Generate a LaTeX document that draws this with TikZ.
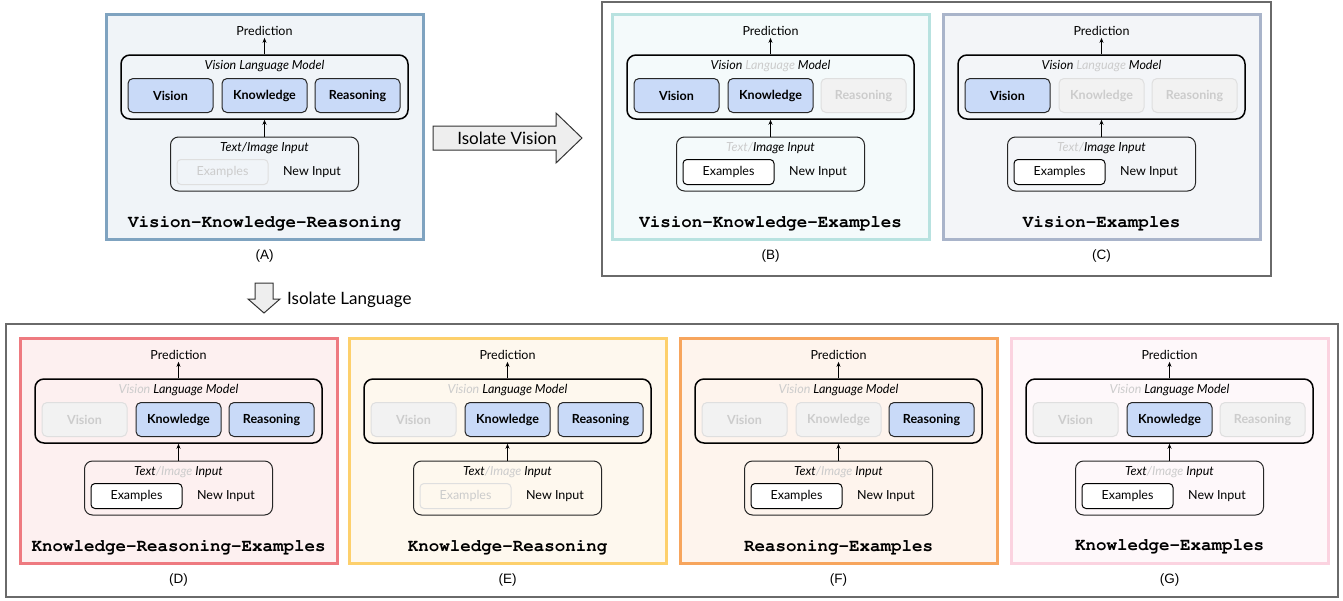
\documentclass[tikz,border=0pt]{standalone}
\usepackage[T1]{fontenc}
\usepackage{fontspec}
\usetikzlibrary{arrows.meta}
\setmainfont{Lato}
\newfontfamily\capfont{Liberation Sans}
\newcommand{\courierbold}{\fontencoding{T1}\fontfamily{pcr}\fontseries{b}\selectfont}

\definecolor{bordA}{HTML}{7FA3C0}
\definecolor{fillA}{HTML}{F0F4F8}
\definecolor{bordB}{HTML}{B8E2E0}
\definecolor{fillB}{HTML}{F4FAFB}
\definecolor{bordC}{HTML}{A9B4CA}
\definecolor{fillC}{HTML}{F3F5F8}
\definecolor{bordD}{HTML}{EE7A80}
\definecolor{fillD}{HTML}{FDF0F0}
\definecolor{bordE}{HTML}{FDD06C}
\definecolor{fillE}{HTML}{FEF8EE}
\definecolor{bordF}{HTML}{F7A55D}
\definecolor{fillF}{HTML}{FEF4ED}
\definecolor{bordG}{HTML}{FBD3E0}
\definecolor{fillG}{HTML}{FEF8FA}
\definecolor{modfill}{HTML}{C9DAF8}
\definecolor{offfill}{HTML}{F2F2F2}
\definecolor{offdraw}{HTML}{DFDFDF}
\definecolor{lblon}{HTML}{000000}
\definecolor{lbloff}{HTML}{CCCCCC}
\definecolor{framegray}{HTML}{6A6A6A}
\definecolor{arrowfill}{HTML}{EEEEEE}

\tikzset{
	txt/.style={inner sep=2pt, font=\fontsize{12.5}{15}\selectfont},
	panel/.style={line width=3pt},
	groupframe/.style={draw=framegray, line width=2pt},
	vlm/.style={draw=black, line width=1.5pt, rounded corners=9pt, minimum width=287, minimum height=64},
	inbox/.style={draw=black!85, line width=1pt, rounded corners=8pt, minimum width=188, minimum height=54},
	mod on/.style={txt, draw=black!85, line width=1pt, fill=modfill, rounded corners=5pt, minimum width=85, minimum height=34, font=\fontsize{12.5}{15}\selectfont\bfseries},
	mod off/.style={txt, draw=offdraw, line width=1pt, fill=offfill, rounded corners=5pt, minimum width=85, minimum height=34, text=lbloff, font=\fontsize{12.5}{15}\selectfont\bfseries},
	ex on/.style={txt, draw=black, line width=1pt, fill=white, rounded corners=4pt, minimum width=91, minimum height=25},
	ex off/.style={txt, draw=offdraw, line width=1pt, rounded corners=4pt, minimum width=91, minimum height=25, text=lbloff},
	ttlbl/.style={inner sep=0pt, font=\courierbold\fontsize{17.5}{20}\selectfont},
	caplbl/.style={inner sep=0pt, font=\capfont\fontsize{13.5}{16}\selectfont},
	arr/.style={-{Stealth[length=5pt,width=4pt]}, line width=1pt},
	bigarrow/.style={draw=black!80, line width=1pt, fill=arrowfill},
	biglbl/.style={inner sep=0pt, font=\fontsize{17}{20}\selectfont}
}

\begin{document}
\begin{tikzpicture}[x=1pt, y=-1pt]
	\useasboundingbox (0,0) rectangle (1343,600);
	% Frames round the isolated groups:
	\draw[groupframe] (602,2) rectangle (1271,276);
	\draw[groupframe] (6,324) rectangle (1338,597);
	% Panels:
	\foreach \p/\px/\py/\bc/\fc/\vs/\ls/\ss/\ks/\rs/\es/\tl/\cp in {
		A/106/14/bordA/fillA/on/on/on/on/on/off/Vision-Knowledge-Reasoning/A,
		B/612/14/bordB/fillB/on/off/off/on/off/on/Vision-Knowledge-Examples/B,
		C/943/14/bordC/fillC/on/off/off/off/off/on/Vision-Examples/C,
		D/20/338/bordD/fillD/off/on/off/on/on/on/Knowledge-Reasoning-Examples/D,
		E/349/338/bordE/fillE/off/on/off/on/on/off/Knowledge-Reasoning/E,
		F/680/338/bordF/fillF/off/on/off/off/on/on/Reasoning-Examples/F,
		G/1011/338/bordG/fillG/off/on/off/on/off/on/Knowledge-Examples/G}
	{
		\draw[panel, draw=\bc, fill=\fc] (\px,\py) rectangle ++(317,225);
		\node[txt] (\p-pred) at (\px+158.5,\py+17) {Prediction};
		\node[vlm] (\p-vlm) at (\px+158.5,\py+73) {};
		\node[txt, font=\fontsize{12.5}{15}\selectfont\itshape] (\p-vlmlbl) at (\px+158.5,\py+52.5)
			{\textcolor{lbl\vs}{Vision} \textcolor{lbl\ls}{Language} Model};
		\node[mod \vs] (\p-vis) at (\px+64.5,\py+81.5) {Vision};
		\node[mod \ks] (\p-kno) at (\px+158.5,\py+81.5) {Knowledge};
		\node[mod \rs] (\p-rea) at (\px+251.5,\py+81.5) {Reasoning};
		\node[inbox] (\p-in) at (\px+158.5,\py+150) {};
		\node[txt, font=\fontsize{12.5}{15}\selectfont\itshape] (\p-inlbl) at (\px+158.5,\py+134)
			{\textcolor{lbl\ls}{Text}\textcolor{lbl\ss}{/}\textcolor{lbl\vs}{Image} Input};
		\node[ex \es] (\p-ex) at (\px+116.5,\py+158) {Examples};
		\node[txt] (\p-new) at (\px+206,\py+158.5) {New Input};
		\node[ttlbl] (\p-ttl) at (\px+158.5,\py+208.5) {\tl};
		\node[caplbl] (\p-cap) at (\px+158.5,\py+242) {(\cp)};
		\draw[arr] (\p-vlm) -- (\p-pred);
		\draw[arr] (\p-in) -- (\p-vlm);
	}
	% Isolate arrows:
	\draw[bigarrow] (433,126) -- (556,126) -- (556,113) -- (582,138) -- (556,163) -- (556,150) -- (433,150) -- cycle;
	\node[biglbl] (isovis) at (507,138) {Isolate Vision};
	\draw[bigarrow] (255,283) -- (273,283) -- (273,299) -- (280,299) -- (264,313) -- (248,299) -- (255,299) -- cycle;
	\node[biglbl, anchor=west] (isolang) at (287,300) {Isolate Language};
\end{tikzpicture}
\end{document}
